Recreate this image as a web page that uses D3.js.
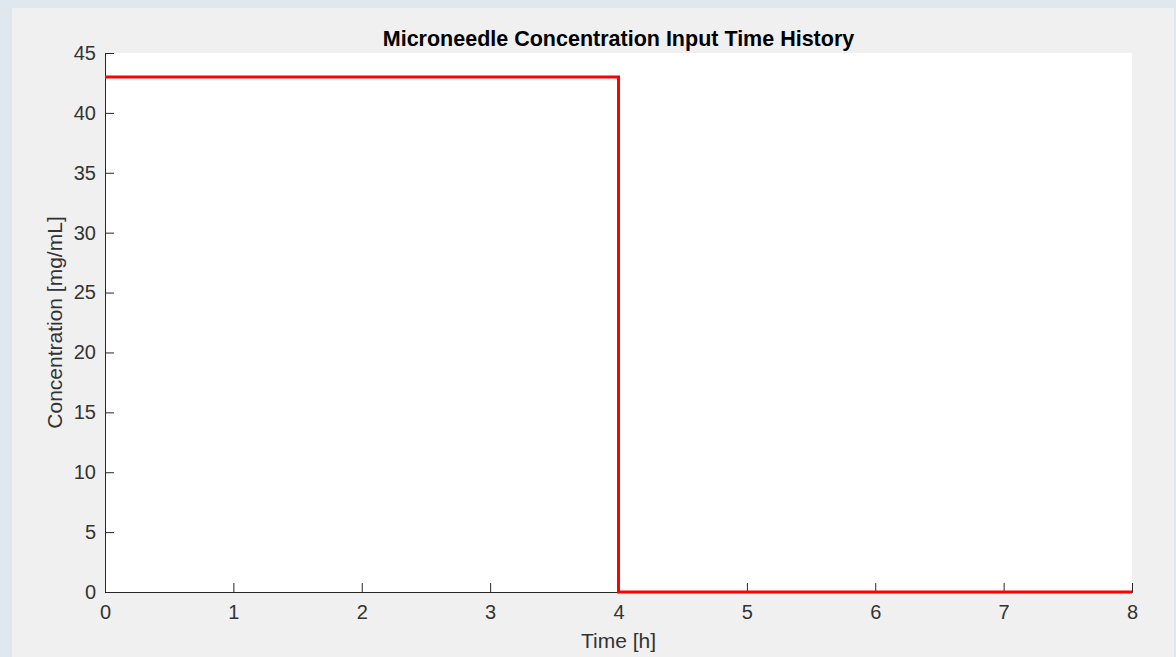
<!DOCTYPE html>
<html>
<head>
<meta charset="utf-8">
<script src="https://cdn.jsdelivr.net/npm/d3@7"></script>
<style>
  body { margin: 0; background: #dfe7ef; }
  text { font-family: "Liberation Sans", Arial, sans-serif; }
</style>
</head>
<body>
<div class="chart"></div>
<script>
// step input: concentration held then dropped to zero
const timeH = [0, 4, 4, 8];
const concentration = [43, 43, 0, 0];
const xTicks = [0, 1, 2, 3, 4, 5, 6, 7, 8];
const yTicks = [0, 5, 10, 15, 20, 25, 30, 35, 40, 45];

const data = timeH.map((t, i) => ({t: t, c: concentration[i]}));

const outerWidth = 1176;
const outerHeight = 657;
const margin = {top: 53, left: 105, bottom: 65, right: 44};
const width = outerWidth - margin.left - margin.right;
const height = outerHeight - margin.top - margin.bottom;

const root = d3.select('.chart')
    .append('svg')
    .attr('width', outerWidth)
    .attr('height', outerHeight);

// figure panel
root.append('rect')
    .attr('x', 12).attr('y', 8)
    .attr('width', 1162).attr('height', outerHeight - 8)
    .attr('fill', '#f0f0f0');

const svg = root.append('g')
    .attr('transform', `translate(${margin.left}, ${margin.top})`);

svg.append('rect')
    .attr('width', width).attr('height', height)
    .attr('fill', 'white');

const xScale = d3.scaleLinear().domain([0, 8]).range([0, width]);
const yScale = d3.scaleLinear().domain([0, 45]).range([height, 0]);

const xAxis = d3.axisBottom(xScale).tickValues(xTicks).tickSize(-9).tickPadding(13).tickFormat(d3.format('d'));
const yAxis = d3.axisLeft(yScale).tickValues(yTicks).tickSize(-9).tickPadding(9).tickFormat(d3.format('d'));

svg.append('g')
    .attr('transform', `translate(0, ${height})`)
    .call(xAxis)
    .call(g => g.select('.domain').attr('stroke', '#262626'))
    .call(g => g.selectAll('.tick line').attr('stroke', '#262626'))
    .call(g => g.selectAll('.tick text').attr('fill', '#333').attr('font-size', 20));

svg.append('g')
    .call(yAxis)
    .call(g => g.select('.domain').attr('stroke', '#262626'))
    .call(g => g.selectAll('.tick line').attr('stroke', '#262626'))
    .call(g => g.selectAll('.tick text').attr('fill', '#333').attr('font-size', 20));

const line = d3.line()
    .x(d => xScale(d.t))
    .y(d => yScale(d.c));

svg.append('path')
    .datum(data)
    .attr('fill', 'none')
    .attr('stroke', '#ff0000')
    .attr('stroke-width', 3)
    .attr('stroke-linejoin', 'miter')
    .attr('d', line);

svg.append('text')
    .attr('x', width / 2)
    .attr('y', -7)
    .attr('text-anchor', 'middle')
    .attr('font-size', 21.5)
    .attr('font-weight', 'bold')
    .attr('fill', 'black')
    .text('Microneedle Concentration Input Time History');

svg.append('text')
    .attr('x', width / 2)
    .attr('y', height + 56)
    .attr('text-anchor', 'middle')
    .attr('font-size', 21)
    .attr('fill', '#333')
    .text('Time [h]');

svg.append('text')
    .attr('transform', `translate(-43, ${height / 2}) rotate(-90)`)
    .attr('text-anchor', 'middle')
    .attr('font-size', 21)
    .attr('fill', '#333')
    .text('Concentration [mg/mL]');
</script>
</body>
</html>
